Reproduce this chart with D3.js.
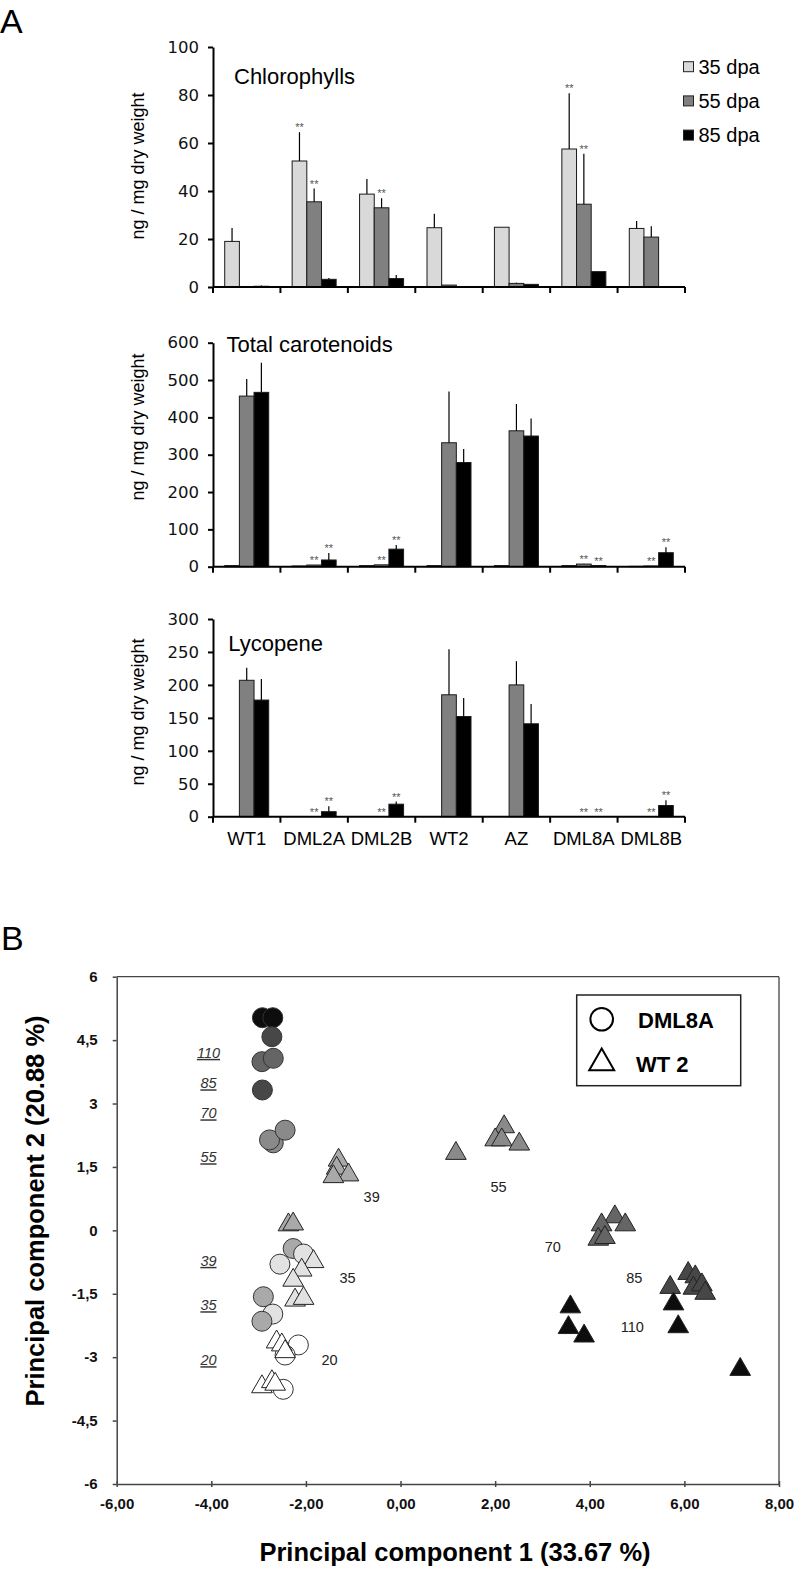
<!DOCTYPE html>
<html><head><meta charset="utf-8">
<script src="https://cdn.jsdelivr.net/npm/d3@7"></script>
<style>body{margin:0;background:#fff}svg{display:block}</style>
</head><body>
<script>
// ---------------- DATA ----------------
const categories = ["WT1","DML2A","DML2B","WT2","AZ","DML8A","DML8B"];
const stages = ["35 dpa","55 dpa","85 dpa"];

// Chlorophylls (ng/mg dry weight): means, SD, significance flags
const chl35 = [19, 52.5, 38.7, 24.7, 24.9, 57.5, 24.4];
const chl55 = [0.1, 35.5, 33, 0.8, 1.5, 34.5, 20.8];
const chl85 = [0.3, 3.2, 3.5, 0, 1.1, 6.4, 0];
const chl35Sd = [5.6, 12, 6.3, 5.8, 0, 23.2, 3.1];
const chl55Sd = [0, 5.5, 4, 0, 0.3, 21, 4.5];
const chl85Sd = [0.3, 0.5, 1.5, 0, 0, 0, 0];
const chl35Sig = [0,1,0,0,0,1,0];
const chl55Sig = [0,1,1,0,0,1,0];
const chl85Sig = [0,0,0,0,0,0,0];
const chlTicks = [0,20,40,60,80,100];

// Total carotenoids
const car35 = [3, 2, 3, 3, 3, 3, 1];
const car55 = [457, 4.5, 5, 332, 364, 7, 2];
const car85 = [467, 18, 47, 279, 350, 3, 37.5];
const car35Sd = [0,0,0,0,0,0,0];
const car55Sd = [46, 0, 0, 137, 72, 1, 0];
const car85Sd = [79, 19, 11, 36, 47, 0, 14.5];
const car35Sig = [0,0,0,0,0,0,0];
const car55Sig = [0,1,1,0,0,1,1];
const car85Sig = [0,1,1,0,0,1,1];
const carTicks = [0,100,200,300,400,500,600];

// Lycopene
const lyc35 = [0,0,0,0,0,0,0];
const lyc55 = [207, 0, 0, 185, 200, 0, 0];
const lyc85 = [177, 7.6, 19, 152, 141, 0, 17];
const lyc35Sd = [0,0,0,0,0,0,0];
const lyc55Sd = [19, 0, 0, 69, 36, 0, 0];
const lyc85Sd = [32, 8.4, 4, 28, 30, 0, 8];
const lyc35Sig = [0,0,0,0,0,0,0];
const lyc55Sig = [0,1,1,0,0,1,1];
const lyc85Sig = [0,1,1,0,0,1,1];
const lycTicks = [0,50,100,150,200,250,300];

// PCA scores – DML8A (circles)
const dmlPC1 = [-2.92,-2.70,-2.72,-2.93,-2.69,-2.92,-2.69,-2.77,-2.44,-2.27,-2.05,-2.55,-2.90,-2.70,-2.93,-2.16,-2.44,-2.48];
const dmlPC2 = [5.03,5.03,4.58,3.99,4.07,3.32,2.07,2.14,2.37,-0.43,-0.56,-0.80,-1.57,-1.98,-2.15,-2.71,-2.95,-3.76];
const dmlDay = [110,110,85,70,70,85,55,55,55,39,35,35,39,35,39,20,20,20];
// PCA scores – WT 2 (triangles)
const wtPC1 = [-1.31,-1.35,-1.10,-1.42,-2.37,-2.27,-1.84,-2.09,-2.27,-2.23,-2.05,-2.62,-2.51,-2.44,-2.93,-2.72,-2.65,1.17,2.19,2.00,2.14,2.51,4.53,4.75,4.25,4.18,4.32,6.08,6.23,5.70,6.19,6.37,6.44,3.59,3.55,3.88,5.77,5.87,7.18];
const wtPC2 = [1.66,1.47,1.31,1.27,0.13,0.15,-0.74,-0.94,-1.18,-1.65,-1.61,-2.64,-2.71,-2.87,-3.70,-3.58,-3.64,1.82,2.45,2.14,2.14,2.04,0.32,0.13,0.13,-0.21,-0.17,-1.02,-1.10,-1.35,-1.37,-1.29,-1.49,-1.81,-2.30,-2.50,-1.74,-2.28,-3.29];
const wtDay = [39,39,39,39,39,39,35,35,35,35,35,20,20,20,20,20,20,55,55,55,55,55,70,70,70,70,70,85,85,85,85,85,85,110,110,110,110,110,110];
// Day labels
const wtLabelText = ["39","55","70","85","110","35","20"];
const wtLabelPC1 = [-0.61, 2.07, 3.22, 4.94, 4.90, -1.12, -1.50];
const wtLabelPC2 = [0.80, 1.03, -0.40, -1.12, -2.28, -1.12, -3.07];
const dmlLabelText = ["110","85","70","55","39","35","20"];
const dmlLabelPC2 = [4.20, 3.48, 2.77, 1.73, -0.72, -1.77, -3.07];
const dmlLabelPC1 = -4.06;
const pcTicksY = [-6,-4.5,-3,-1.5,0,1.5,3,4.5,6];
const pcTicksX = [-6,-4,-2,0,2,4,6,8];

// ---------------- DRAW ----------------
const W = 796, H = 1569;
const SANS = "'Liberation Sans', Arial, Helvetica, sans-serif";
const svg = d3.select("body").append("svg").attr("width", W).attr("height", H)
  .style("background", "#fff");

const stageFill = d3.scaleOrdinal().domain(stages).range(["#d9d9d9", "#808080", "#000000"]);

const x0 = d3.scaleBand().domain(categories).range([213, 685]).padding(0);
const groupW = 44;
const x1 = d3.scaleBand().domain(stages)
  .range([(x0.bandwidth() - groupW) / 2, (x0.bandwidth() + groupW) / 2]).padding(0);

svg.append("text").attr("x", 0).attr("y", 33).text("A")
  .style("font-family", SANS).style("font-size", "34px").attr("fill", "#000");

function barPanel(o) {
  const y = d3.scaleLinear().domain([0, d3.max(o.ticks)]).range([o.y0, o.yTop]);
  const g = svg.append("g");
  stages.forEach((s, si) => {
    const rows = categories.map((c, i) => ({c, v: o.vals[si][i], sd: o.sds[si][i], sig: o.sigs[si][i]}));
    const cx = d => x0(d.c) + x1(s) + x1.bandwidth() / 2;
    g.selectAll(null).data(rows).join("rect")
      .attr("x", d => x0(d.c) + x1(s))
      .attr("y", d => y(d.v))
      .attr("width", x1.bandwidth())
      .attr("height", d => y(0) - y(d.v))
      .attr("fill", stageFill(s))
      .attr("stroke", "#1a1a1a").attr("stroke-width", 1);
    g.selectAll(null).data(rows.filter(d => d.sd > 0)).join("line")
      .attr("x1", cx).attr("x2", cx)
      .attr("y1", d => y(d.v)).attr("y2", d => y(d.v + d.sd))
      .attr("stroke", "#000").attr("stroke-width", 1.2);
    g.selectAll(null).data(rows.filter(d => d.sig)).join("text")
      .attr("x", cx).attr("y", d => y(d.v + d.sd) - 1)
      .attr("text-anchor", "middle").text("**")
      .style("font-family", SANS).style("font-size", "11px").attr("fill", "#555");
  });
  // y axis
  const ya = g.append("g").attr("transform", `translate(${x0.range()[0]},0)`)
    .call(d3.axisLeft(y).tickValues(o.ticks).tickSize(5).tickSizeOuter(0).tickPadding(9).tickFormat(d3.format("d")));
  ya.select(".domain").attr("stroke", "#000").attr("stroke-width", 2);
  ya.selectAll(".tick line").attr("stroke", "#000").attr("stroke-width", 2);
  ya.selectAll(".tick text").style("font-family", "'DejaVu Sans', sans-serif").style("font-size", "16.5px").attr("fill", "#111");
  // x axis
  g.append("line").attr("x1", x0.range()[0]).attr("x2", x0.range()[1])
    .attr("y1", y(0)).attr("y2", y(0)).attr("stroke", "#000").attr("stroke-width", 2);
  const bounds = categories.map(c => x0(c)).concat([x0.range()[1]]);
  g.selectAll(null).data(bounds).join("line")
    .attr("x1", d => d).attr("x2", d => d)
    .attr("y1", y(0)).attr("y2", y(0) + 6)
    .attr("stroke", "#000").attr("stroke-width", 2);
  // title
  g.append("text").attr("x", o.titleX).attr("y", o.titleY).text(o.title)
    .style("font-family", SANS).style("font-size", "22px").attr("fill", "#000");
  // y label
  g.append("text").attr("transform", `translate(144,${o.labelY}) rotate(-90)`)
    .attr("text-anchor", "middle").text("ng / mg dry weight")
    .style("font-family", SANS).style("font-size", "18px").attr("fill", "#000");
  if (o.xLabels) {
    g.selectAll(null).data(categories).join("text")
      .attr("x", d => x0(d) + x0.bandwidth() / 2).attr("y", y(0) + 28.5)
      .attr("text-anchor", "middle").text(d => d)
      .style("font-family", SANS).style("font-size", "18.5px").attr("fill", "#000");
  }
}

barPanel({vals: [chl35, chl55, chl85], sds: [chl35Sd, chl55Sd, chl85Sd], sigs: [chl35Sig, chl55Sig, chl85Sig],
  ticks: chlTicks, y0: 287, yTop: 47, title: "Chlorophylls", titleX: 234, titleY: 84, labelY: 166});
barPanel({vals: [car35, car55, car85], sds: [car35Sd, car55Sd, car85Sd], sigs: [car35Sig, car55Sig, car85Sig],
  ticks: carTicks, y0: 566.7, yTop: 342.7, title: "Total carotenoids", titleX: 226.5, titleY: 351.7, labelY: 427});
barPanel({vals: [lyc35, lyc55, lyc85], sds: [lyc35Sd, lyc55Sd, lyc85Sd], sigs: [lyc35Sig, lyc55Sig, lyc85Sig],
  ticks: lycTicks, y0: 816.7, yTop: 619, title: "Lycopene", titleX: 228.3, titleY: 651, labelY: 712, xLabels: true});

// legend A
const legA = svg.append("g");
stages.forEach((s, i) => {
  legA.append("rect").attr("x", 683.5).attr("y", 61.7 + i * 34.2).attr("width", 10).attr("height", 10)
    .attr("fill", stageFill(s)).attr("stroke", "#222").attr("stroke-width", 1);
  legA.append("text").attr("x", 698.5).attr("y", 73.5 + i * 34.2).text(s)
    .style("font-family", SANS).style("font-size", "20px").attr("fill", "#000");
});

// ---------------- PANEL B ----------------
svg.append("text").attr("x", 1).attr("y", 950).text("B")
  .style("font-family", SANS).style("font-size", "34px").attr("fill", "#000");

const xs = d3.scaleLinear().domain([-6, 8]).range([116.7, 779]);
const ys = d3.scaleLinear().domain([-6, 6]).range([1484, 976.7]);
const dayGrey = d3.scaleOrdinal().domain([20, 35, 39, 55, 70, 85, 110])
  .range(["#ffffff", "#e2e2e2", "#a9a9a9", "#8a8a8a", "#656565", "#474747", "#0d0d0d"]);

const gb = svg.append("g");
// frame
gb.append("line").attr("x1", xs(-6)).attr("x2", xs(8)).attr("y1", ys(6)).attr("y2", ys(6))
  .attr("stroke", "#444").attr("stroke-width", 1.3);
gb.append("line").attr("x1", xs(8)).attr("x2", xs(8)).attr("y1", ys(6)).attr("y2", ys(-6))
  .attr("stroke", "#444").attr("stroke-width", 1.3);

const yAx = gb.append("g").attr("transform", `translate(${xs(-6)},0)`)
  .call(d3.axisLeft(ys).tickValues(pcTicksY).tickSize(4).tickSizeOuter(0).tickPadding(15)
    .tickFormat(d => String(d).replace(".", ",")));
const xAx = gb.append("g").attr("transform", `translate(0,${ys(-6)})`)
  .call(d3.axisBottom(xs).tickValues(pcTicksX).tickSize(3).tickSizeOuter(0)
    .tickFormat(d => d.toFixed(2).replace(".", ",")));
xAx.selectAll(".tick line").attr("y1", -3).attr("y2", 3);
xAx.selectAll(".tick text").attr("y", 25).attr("dy", 0);
[yAx, xAx].forEach(a => {
  a.select(".domain").attr("stroke", "#444").attr("stroke-width", 1.5);
  a.selectAll(".tick line").attr("stroke", "#444").attr("stroke-width", 1.5);
  a.selectAll(".tick text").style("font-family", SANS).style("font-size", "15px")
    .style("font-weight", "bold").attr("fill", "#111");
});

// points
const circ = dmlPC1.map((v, i) => ({x: v, y: dmlPC2[i], d: dmlDay[i]}));
const tri = wtPC1.map((v, i) => ({x: v, y: wtPC2[i], d: wtDay[i]}));
gb.selectAll(null).data(circ).join("circle")
  .attr("cx", d => xs(d.x)).attr("cy", d => ys(d.y)).attr("r", 10)
  .attr("fill", d => dayGrey(d.d)).attr("stroke", "#333").attr("stroke-width", 1);
const triPath = d3.symbol(d3.symbolTriangle, 185)();
gb.selectAll(null).data(tri).join("path")
  .attr("d", triPath)
  .attr("transform", d => `translate(${xs(d.x)},${ys(d.y)})`)
  .attr("fill", d => dayGrey(d.d)).attr("stroke", "#222").attr("stroke-width", 1);

// labels
gb.selectAll(null).data(wtLabelText).join("text")
  .attr("x", (d, i) => xs(wtLabelPC1[i])).attr("y", (d, i) => ys(wtLabelPC2[i]))
  .attr("dy", "0.35em").attr("text-anchor", "middle").text(d => d)
  .style("font-family", SANS).style("font-size", "14.5px").attr("fill", "#222");
gb.selectAll(null).data(dmlLabelText).join("text")
  .attr("x", xs(dmlLabelPC1)).attr("y", (d, i) => ys(dmlLabelPC2[i]))
  .attr("dy", "0.35em").attr("text-anchor", "middle").text(d => d)
  .attr("text-decoration", "underline").style("text-decoration", "underline")
  .style("font-family", SANS).style("font-size", "14.5px").style("font-style", "italic").attr("fill", "#333");

// legend B
const lb = gb.append("g");
lb.append("rect").attr("x", 576.7).attr("y", 995).attr("width", 164).attr("height", 90.7)
  .attr("fill", "#fff").attr("stroke", "#222").attr("stroke-width", 1.5);
lb.append("circle").attr("cx", 601.7).attr("cy", 1019.3).attr("r", 11.3)
  .attr("fill", "none").attr("stroke", "#000").attr("stroke-width", 2);
lb.append("path").attr("d", d3.symbol(d3.symbolTriangle, 270)())
  .attr("transform", "translate(601.7,1063)")
  .attr("fill", "none").attr("stroke", "#000").attr("stroke-width", 2);
lb.append("text").attr("x", 638).attr("y", 1028).text("DML8A")
  .style("font-family", SANS).style("font-size", "22px").style("font-weight", "bold");
lb.append("text").attr("x", 636).attr("y", 1071.5).text("WT 2")
  .style("font-family", SANS).style("font-size", "22px").style("font-weight", "bold");

// axis titles
gb.append("text").attr("x", 455).attr("y", 1561).attr("text-anchor", "middle")
  .text("Principal component 1 (33.67 %)")
  .style("font-family", SANS).style("font-size", "25.5px").style("font-weight", "bold");
gb.append("text").attr("transform", "translate(44,1211) rotate(-90)").attr("text-anchor", "middle")
  .text("Principal component 2 (20.88 %)")
  .style("font-family", SANS).style("font-size", "25.5px").style("font-weight", "bold");
</script>
</body></html>
